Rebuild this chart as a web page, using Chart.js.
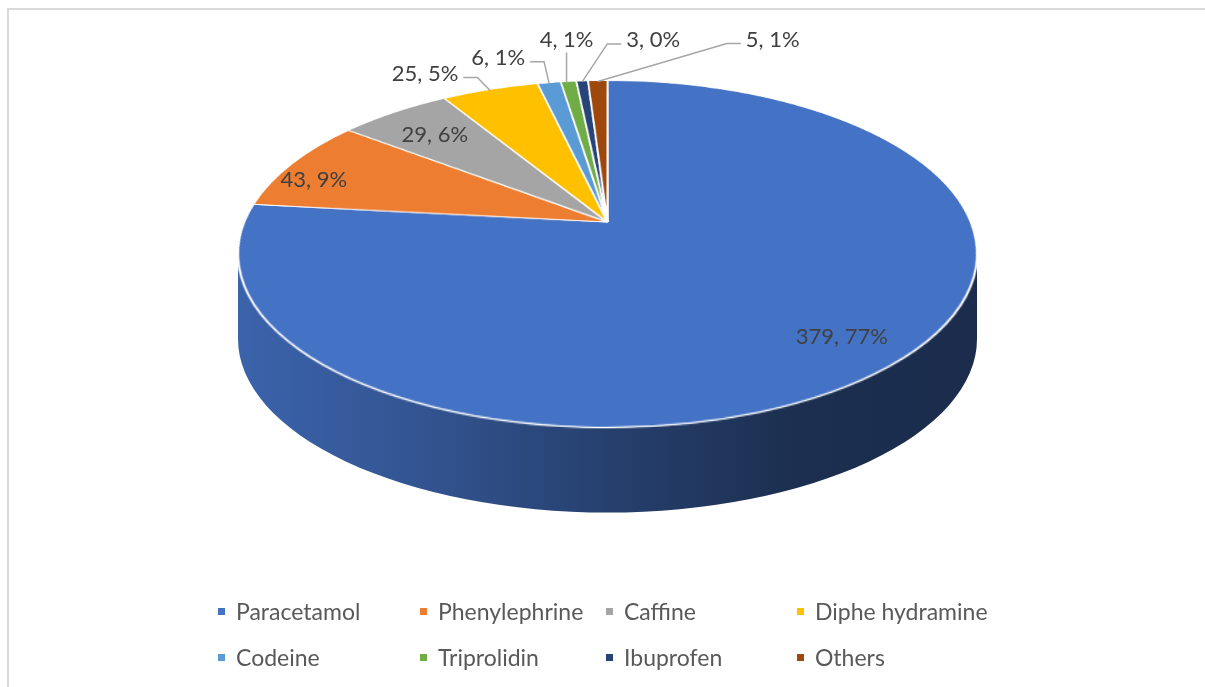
<!DOCTYPE html>
<html>
<head>
<meta charset="utf-8">
<script src="https://cdn.jsdelivr.net/npm/chart.js@4.4.1/dist/chart.umd.min.js"></script>
<style>
html, body { margin: 0; padding: 0; background: #fff; overflow: hidden; }
#frame-top { position: absolute; left: 7px; top: 8px; right: 0; height: 2px; background: #d9d9d9; }
#frame-left { position: absolute; left: 7px; top: 8px; bottom: 0; width: 2px; background: #d9d9d9; }
#pie { position: absolute; left: 0; top: 0; }
#legend { position: absolute; left: 218px; top: 588px; display: grid; grid-template-columns: 202px 186px 191px 240px; grid-auto-rows: 46px; font-family: Lato, sans-serif; font-size: 23px; color: #595959; }
.item { display: flex; align-items: center; white-space: nowrap; }
.box { width: 7px; height: 7px; margin-right: 11px; }
</style>
</head>
<body>
<div id="frame-top"></div>
<div id="frame-left"></div>
<canvas id="pie" width="1205" height="687"></canvas>
<div id="legend"></div>
<script>
"use strict";
// data
const drug_names = ['Paracetamol', 'Phenylephrine', 'Caffine', 'Diphe hydramine', 'Codeine', 'Triprolidin', 'Ibuprofen', 'Others'];
const drug_counts = [379, 43, 29, 25, 6, 4, 3, 5];
const drug_percents = [77, 9, 6, 5, 1, 1, 0, 1];
const slice_colors = ['#4472C4', '#ED7D31', '#A5A5A5', '#FFC000', '#5B9BD5', '#70AD47', '#264478', '#9E480E'];

// label placement (inside the slice or outside with a leader line)
const label_inside = [true, true, true, false, false, false, false, false];
const label_nudge = [[1, -5], [-23, 8], [12, 8], [-65, -16], [-51, -25], [-2, -42], [71, -41], [175, -41]];

// 3d look: wall height, gradient of the wall, and tilt of the top face
const side_depth = 85;
const side_stops = [[0, 0.87], [0.26, 0.73], [0.5, 0.56], [0.75, 0.41], [1, 0.39]];
const view_tilt = 0.184;

function shade (hex, f) {
    const n = parseInt(hex.slice(1), 16);
    const r = Math.round(((n >> 16) & 255) * f);
    const g = Math.round(((n >> 8) & 255) * f);
    const b = Math.round((n & 255) * f);
    return 'rgb(' + r + ',' + g + ',' + b + ')';
}

// unit-ellipse point (u, v) -> point after the perspective tilt
function tilt_point (u, v) {
    const d = 1 - view_tilt * v;
    return [u * Math.sqrt(1 - view_tilt * view_tilt) / d, (v - view_tilt) / d];
}

const pie_3d = {
    id: 'pie_3d',
    beforeDatasetsDraw (chart) {
        // draw the slices squashed into an ellipse
        const ctx = chart.ctx;
        const arc0 = chart.getDatasetMeta(0).data[0];
        const kx = (chart.chartArea.width / 2) / arc0.outerRadius;
        ctx.save();
        ctx.translate(arc0.x, 0);
        ctx.scale(kx, 1);
        ctx.translate(-arc0.x, 0);
    },
    afterDatasetsDraw (chart) {
        const ctx = chart.ctx;
        ctx.restore();
        const canvas = chart.canvas;
        const arcs = chart.getDatasetMeta(0).data;
        const cx = arcs[0].x, cy = arcs[0].y;
        const rx = chart.chartArea.width / 2, ry = arcs[0].outerRadius;

        // keep the flat top face aside
        const off = document.createElement('canvas');
        off.width = canvas.width;
        off.height = canvas.height;
        off.getContext('2d').drawImage(canvas, 0, 0);
        ctx.clearRect(0, 0, canvas.width, canvas.height);

        // side wall of the front half
        arcs.forEach((arc, i) => {
            const p0 = tilt_point(Math.cos(arc.startAngle), Math.sin(arc.startAngle));
            const p1 = tilt_point(Math.cos(arc.endAngle), Math.sin(arc.endAngle));
            const f0 = Math.atan2(p0[1], p0[0]);
            let f1 = Math.atan2(p1[1], p1[0]);
            while (f1 <= f0) f1 += 2 * Math.PI;
            [-2 * Math.PI, 0, 2 * Math.PI].forEach((shift) => {
                const a0 = Math.max(f0 + shift, 0);
                const a1 = Math.min(f1 + shift, Math.PI);
                if (a1 <= a0) return;
                const grad = ctx.createLinearGradient(cx - rx, 0, cx + rx, 0);
                side_stops.forEach((s) => grad.addColorStop(s[0], shade(slice_colors[i], s[1])));
                ctx.beginPath();
                ctx.ellipse(cx, cy, rx, ry, 0, a0, a1);
                ctx.ellipse(cx, cy + side_depth, rx, ry, 0, a1, a0, true);
                ctx.closePath();
                ctx.fillStyle = grad;
                ctx.fill();
            });
        });

        // top face, row by row with the tilt
        const k = Math.sqrt(1 - view_tilt * view_tilt);
        for (let py = Math.floor(cy - ry) - 1; py <= Math.ceil(cy + ry) + 1; py++) {
            const Y = (py + 0.5 - cy) / ry;
            if (Math.abs(Y) > 1.03) continue;
            const v = (Y + view_tilt) / (1 + view_tilt * Y);
            const s = k / (1 - view_tilt * v);
            const sw = 2 * rx + 6;
            ctx.drawImage(off, cx - sw / 2, cy + v * ry - 0.5, sw, 1, cx - s * sw / 2, py, s * sw, 1);
        }

        // data labels
        ctx.save();
        ctx.font = '22px Lato';
        ctx.textAlign = 'center';
        ctx.textBaseline = 'middle';
        arcs.forEach((arc, i) => {
            const mid = (arc.startAngle + arc.endAngle) / 2;
            const f = label_inside[i] ? 0.85 : 1;
            const p = tilt_point(f * Math.cos(mid), f * Math.sin(mid));
            const ax = cx + rx * p[0];
            const ay = cy + ry * p[1];
            const lx = ax + label_nudge[i][0];
            const ly = ay + label_nudge[i][1];
            const text = drug_counts[i] + ', ' + drug_percents[i] + '%';
            const half = ctx.measureText(text).width / 2;
            if (!label_inside[i]) {
                ctx.strokeStyle = '#a6a6a6';
                ctx.lineWidth = 1.5;
                ctx.beginPath();
                if (Math.abs(lx - ax) < half) {
                    ctx.moveTo(lx, ly + 13);
                    ctx.lineTo(lx, ay + 1);
                } else {
                    const dir = lx > ax ? -1 : 1;
                    const sx = lx + dir * (half + 5);
                    const sy = ly + 4;
                    const ex = sx + dir * Math.min(14, Math.abs(ax - sx) * 0.75);
                    ctx.moveTo(sx, sy);
                    ctx.lineTo(ex, sy);
                    ctx.lineTo(ax, ay + 1);
                }
                ctx.stroke();
            }
            ctx.fillStyle = '#404040';
            ctx.fillText(text, lx, ly);
        });
        ctx.restore();
    }
};

const pie_chart = new Chart(document.getElementById('pie').getContext('2d'), {
    type: 'pie',
    data: {
        labels: drug_names,
        datasets: [{
            data: drug_counts,
            backgroundColor: slice_colors,
            borderColor: '#ffffff',
            borderWidth: 1,
            hoverOffset: 0,
            clip: false,
        }]
    },
    options: {
        responsive: false,
        devicePixelRatio: 1,
        animation: false,
        events: [],
        layout: { padding: { left: 238, right: 228, top: 80, bottom: 259 } },
        plugins: {
            legend: { display: false },
            tooltip: { enabled: false },
        },
    },
    plugins: [pie_3d],
});

// legend in four fixed columns
const legend_box = document.getElementById('legend');
drug_names.forEach((name, i) => {
    legend_box.insertAdjacentHTML('beforeend',
        '<div class="item"><span class="box" style="background:' + slice_colors[i] + '"></span>' + name + '</div>');
});
</script>
</body>
</html>
